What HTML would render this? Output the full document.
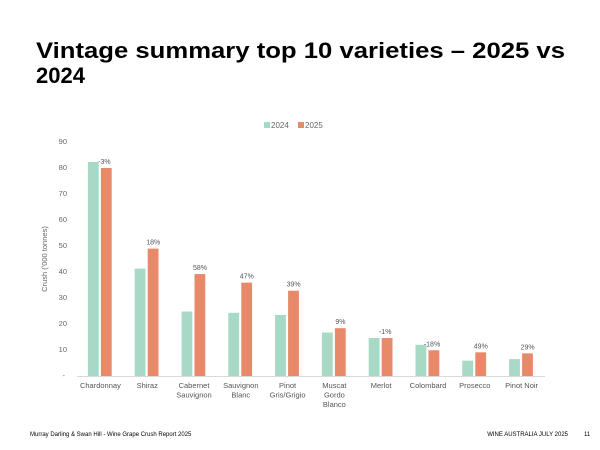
<!DOCTYPE html>
<html><head><meta charset="utf-8"><style>
body{margin:0;background:#fff;}
svg{display:block;font-family:"Liberation Sans",sans-serif;}
</style></head><body>
<svg width="600" height="450" viewBox="0 0 600 450" xmlns="http://www.w3.org/2000/svg">
<text x="36" y="58" font-size="22" font-weight="bold" fill="#000" textLength="529" lengthAdjust="spacingAndGlyphs">Vintage summary top 10 varieties – 2025 vs</text>
<text x="36" y="83" font-size="22" font-weight="bold" fill="#000">2024</text>
<rect x="264" y="122" width="6" height="6" fill="#a8d8c6"/>
<text x="271" y="128" font-size="8" fill="#666">2024</text>
<rect x="298" y="122" width="6" height="6" fill="#e8896a"/>
<text x="305" y="128" font-size="8" fill="#666">2025</text>
<g font-size="7.5" fill="#666" text-anchor="end">
<text x="67" y="144">90</text><text x="67" y="170">80</text><text x="67" y="196">70</text>
<text x="67" y="222">60</text><text x="67" y="248">50</text><text x="67" y="274">40</text>
<text x="67" y="300">30</text><text x="67" y="326">20</text><text x="67" y="352">10</text>
<text x="65" y="378">-</text>
</g>
<text transform="translate(47,259) rotate(-90)" font-size="7.5" fill="#666" text-anchor="middle">Crush ('000 tonnes)</text>
<line x1="77" y1="376.5" x2="545" y2="376.5" stroke="#d9d9d9" stroke-width="1"/>
<g id="bars"></g>
<g font-size="7" fill="#555" text-anchor="middle" id="labels"></g>
<text x="30" y="436" font-size="6" fill="#000">Murray Darling &amp; Swan Hill - Wine Grape Crush Report 2025</text>
<text x="568" y="436" font-size="6" fill="#000" text-anchor="end">WINE AUSTRALIA JULY 2025</text>
<text x="584" y="436" font-size="6" fill="#000">11</text>
</svg>
<script>
var d=[["Chardonnay",82.3,80,"-3%"],["Shiraz",41.3,49,"18%"],["Cabernet|Sauvignon",24.8,39.2,"58%"],["Sauvignon|Blanc",24.3,35.9,"47%"],["Pinot|Gris/Grigio",23.5,32.8,"39%"],["Muscat|Gordo|Blanco",16.7,18.4,"9%"],["Merlot",14.6,14.6,"-1%"],["Colombard",12,9.9,"-18%"],["Prosecco",5.9,9.1,"49%"],["Pinot Noir",6.5,8.7,"29%"]];
var ns="http://www.w3.org/2000/svg",b=document.getElementById("bars"),l=document.getElementById("labels");
function el(p,t,a,txt){var e=document.createElementNS(ns,t);for(var k in a)e.setAttribute(k,a[k]);if(txt)e.textContent=txt;p.appendChild(e);return e;}
d.forEach(function(r,i){var c=77+23.4+46.8*i;
var h1=r[1]*2.6,h2=r[2]*2.6;
el(b,"rect",{x:c-12.5,y:376-h1,width:10.8,height:h1,fill:"#a8d8c6"});
el(b,"rect",{x:c+0.5,y:376-h2,width:10.8,height:h2,fill:"#e8896a"});
el(l,"text",{x:c+(r[3].charAt(0)=="-"?4:6),y:376-h2-4},r[3]);
r[0].split("|").forEach(function(s,j){el(l,"text",{x:c,y:388+j*9.5,"font-size":"7.5",fill:"#555"},s);});
});
</script>
</body></html>
